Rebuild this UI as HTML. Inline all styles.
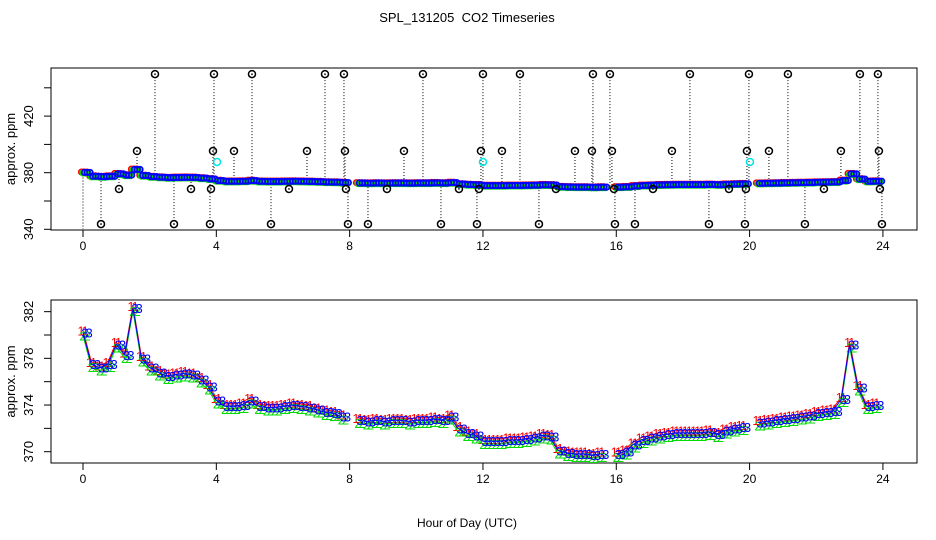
<!DOCTYPE html>
<html><head><meta charset="utf-8"><style>
body{margin:0;background:#fff;}
svg{display:block;font-family:"Liberation Sans",Arial,sans-serif;}
</style></head><body>
<svg id="c" width="936" height="540" viewBox="0 0 936 540"></svg>
<script>
const hours = [];
for (let i = 0; i < 96; i++) hours.push(i * 0.25);
const co2 = [380.2,377.5,377.2,377.5,379.2,378.3,382.3,378.0,377.2,376.8,376.5,376.6,376.7,376.6,376.2,375.6,
374.4,373.9,373.9,374.0,374.4,373.9,373.8,373.8,373.9,374.0,373.9,373.8,373.6,373.4,373.3,373.0,
null,372.7,372.6,372.7,372.6,372.7,372.7,372.6,372.7,372.7,372.8,372.7,373.0,372.0,371.6,371.4,
370.9,370.9,370.9,371.0,371.0,371.1,371.2,371.4,371.3,370.1,369.9,369.8,369.8,369.7,369.8,null,
369.8,370.0,370.6,371.0,371.2,371.4,371.5,371.6,371.6,371.6,371.6,371.7,371.5,371.8,372.0,372.1,
null,372.5,372.6,372.7,372.8,372.9,373.0,373.1,373.3,373.4,373.5,374.5,379.2,375.5,373.9,374.0];
const outlierHours = [2.16,3.93,5.07,7.26,7.83,10.2,12.0,13.11,15.3,15.81,18.21,19.98,21.15,23.31,23.85,
1.62,3.9,4.53,6.72,7.86,9.63,11.94,12.57,14.76,15.27,15.87,17.67,19.92,20.58,22.74,23.88,
1.08,3.24,3.84,6.18,7.89,9.12,11.28,11.88,14.19,15.93,17.1,19.38,19.89,22.23,23.91,
0.54,2.73,3.81,5.64,7.95,8.55,10.74,11.82,13.68,15.96,16.56,18.78,19.86,21.66,23.97];
const outlierValues = [449.7,449.7,449.7,449.7,449.7,449.7,449.7,449.7,449.7,449.7,449.7,449.7,449.7,449.7,449.7,
395.3,395.3,395.3,395.3,395.3,395.3,395.3,395.3,395.3,395.3,395.3,395.3,395.3,395.3,395.3,395.3,
368.5,368.5,368.5,368.5,368.5,368.5,368.5,368.5,368.5,368.5,368.5,368.5,368.5,368.5,368.5,
343.7,343.7,343.7,343.7,343.7,343.7,343.7,343.7,343.7,343.7,343.7,343.7,343.7,343.7,343.7];
const cyanHours = [4.02,12.0,20.01];
const cyanValues = [387.6,387.6,387.6];
const xTicks = [0,4,8,12,16,20,24];
const topYTicks = [340,360,380,400,420,440];
const topYLabels = [340,380,420];
const botYTicks = [370,372,374,376,378,380,382];
const botYLabels = [370,374,378,382];

const NS = "http://www.w3.org/2000/svg";
const svg = document.getElementById('c');
function mk(tag, attrs, parent, text){
  const e = document.createElementNS(NS, tag);
  for (const k in attrs) e.setAttribute(k, attrs[k]);
  if (text !== undefined) e.textContent = text;
  (parent || svg).appendChild(e);
  return e;
}
const X = h => 83 + h * 33.33;
const Ytop = v => 229.3 - (v - 340) * 1.415;
const Ybot = v => 451.7 - (v - 370) * 11.67;

const title = mk('text',{x:467,y:22,'text-anchor':'middle','font-size':13},svg,'SPL_131205\u00a0 CO2 Timeseries');



function panel(name, top, bottom, Y, yTicks, yLabels){
  const g = mk('g',{});
  
  
  const box = mk('rect',{x:51,y:top,width:866,height:bottom-top,fill:'none',stroke:'#000','stroke-width':1},g);
  
  
  const xa = mk('g',{},g);
  
  
  xTicks.forEach(t=>{
    mk('line',{x1:X(t),x2:X(t),y1:bottom,y2:bottom+7,stroke:'#000'},xa);
    const l = mk('text',{x:X(t),y:bottom+20,'text-anchor':'middle','font-size':12},xa,String(t));
    
    
  });
  const ya = mk('g',{},g);
  
  
  yTicks.forEach(t=>{
    if (Y(t) < top-1 || Y(t) > bottom+1) return;
    mk('line',{x1:44,x2:51,y1:Y(t),y2:Y(t),stroke:'#000'},ya);
  });
  yLabels.forEach(t=>{
    const l = mk('text',{x:0,y:0,'text-anchor':'middle','font-size':13,transform:`translate(33,${Y(t)}) rotate(-90)`},ya,String(t));
    
    
  });
  const yt = mk('text',{x:0,y:0,'text-anchor':'middle','font-size':13,transform:`translate(15,${(top+bottom)/2}) rotate(-90)`},g,'approx. ppm');
  
  
  return g;
}

// top panel
const gTop = panel('top-panel', 68, 230, Ytop, topYTicks, topYLabels);
mk('line',{x1:X(0),x2:X(0),y1:Ytop(383),y2:229,stroke:'#000','stroke-dasharray':'1,2'},gTop);
function nearest(h){ let best=null,bd=1e9; hours.forEach((t,i)=>{ if(co2[i]!==null && Math.abs(t-h)<bd){bd=Math.abs(t-h);best=co2[i];}}); return best; }
outlierHours.forEach((h,i)=>{
  const v = outlierValues[i];
  const base = nearest(h);
  mk('line',{x1:X(h),x2:X(h),y1:Ytop(v),y2:Ytop(base),stroke:'#000','stroke-dasharray':'1,2'},gTop);
});
const cols = ['#ff0000','#00dd00','#0000ff'];
const offs = [0.25,-0.4,0];
cols.forEach((c,k)=>{
  hours.forEach((h,i)=>{
    if (co2[i]===null) return;
    for (let s=0;s<3;s++){
      const hh = h + s*0.083;
      const pt = mk('circle',{cx:X(hh)+(k-1)*1.5,cy:Ytop(co2[i]+offs[k]),r:2.8,fill:'none',stroke:c,'stroke-width':1.6},gTop);
      
      
    }
  });
});
outlierHours.forEach((h,i)=>{
  const o = mk('circle',{cx:X(h),cy:Ytop(outlierValues[i]),r:3.5,fill:'none',stroke:'#000','stroke-width':1.5},gTop);
  
  
  mk('circle',{cx:X(h),cy:Ytop(outlierValues[i]),r:0.8,fill:'#000'},gTop);
});
cyanHours.forEach((h,i)=>{
  const o = mk('circle',{cx:X(h),cy:Ytop(cyanValues[i]),r:3.5,fill:'none',stroke:'#00e5e5','stroke-width':1.5},gTop);
  
  
});

// bottom panel
const gBot = panel('bottom-panel', 300, 463, Ybot, botYTicks, botYLabels);
const boffs = [0.2,-0.25,0];
const labels = ['1','2','3'];
cols.forEach((c,k)=>{
  let d='', pen=false;
  hours.forEach((h,i)=>{
    if (co2[i]===null){pen=false;return;}
    d += (pen?'L':'M') + X(h).toFixed(1)+','+Ybot(co2[i]+boffs[k]).toFixed(1);
    pen=true;
  });
  const p = mk('path',{d:d,fill:'none',stroke:c,'stroke-width':1},gBot);
  
  
  hours.forEach((h,i)=>{
    if (co2[i]===null) return;
    for (let s=0;s<2;s++){
      const t = mk('text',{x:X(h+s*0.125)+(k-1)*2,y:Ybot(co2[i]+boffs[k])+5,'text-anchor':'middle','font-size':13,fill:c},gBot,labels[k]);
      
      
    }
  });
});
const xt = mk('text',{x:467,y:527,'text-anchor':'middle','font-size':12},svg,'Hour of Day (UTC)');


</script>
</body></html>
